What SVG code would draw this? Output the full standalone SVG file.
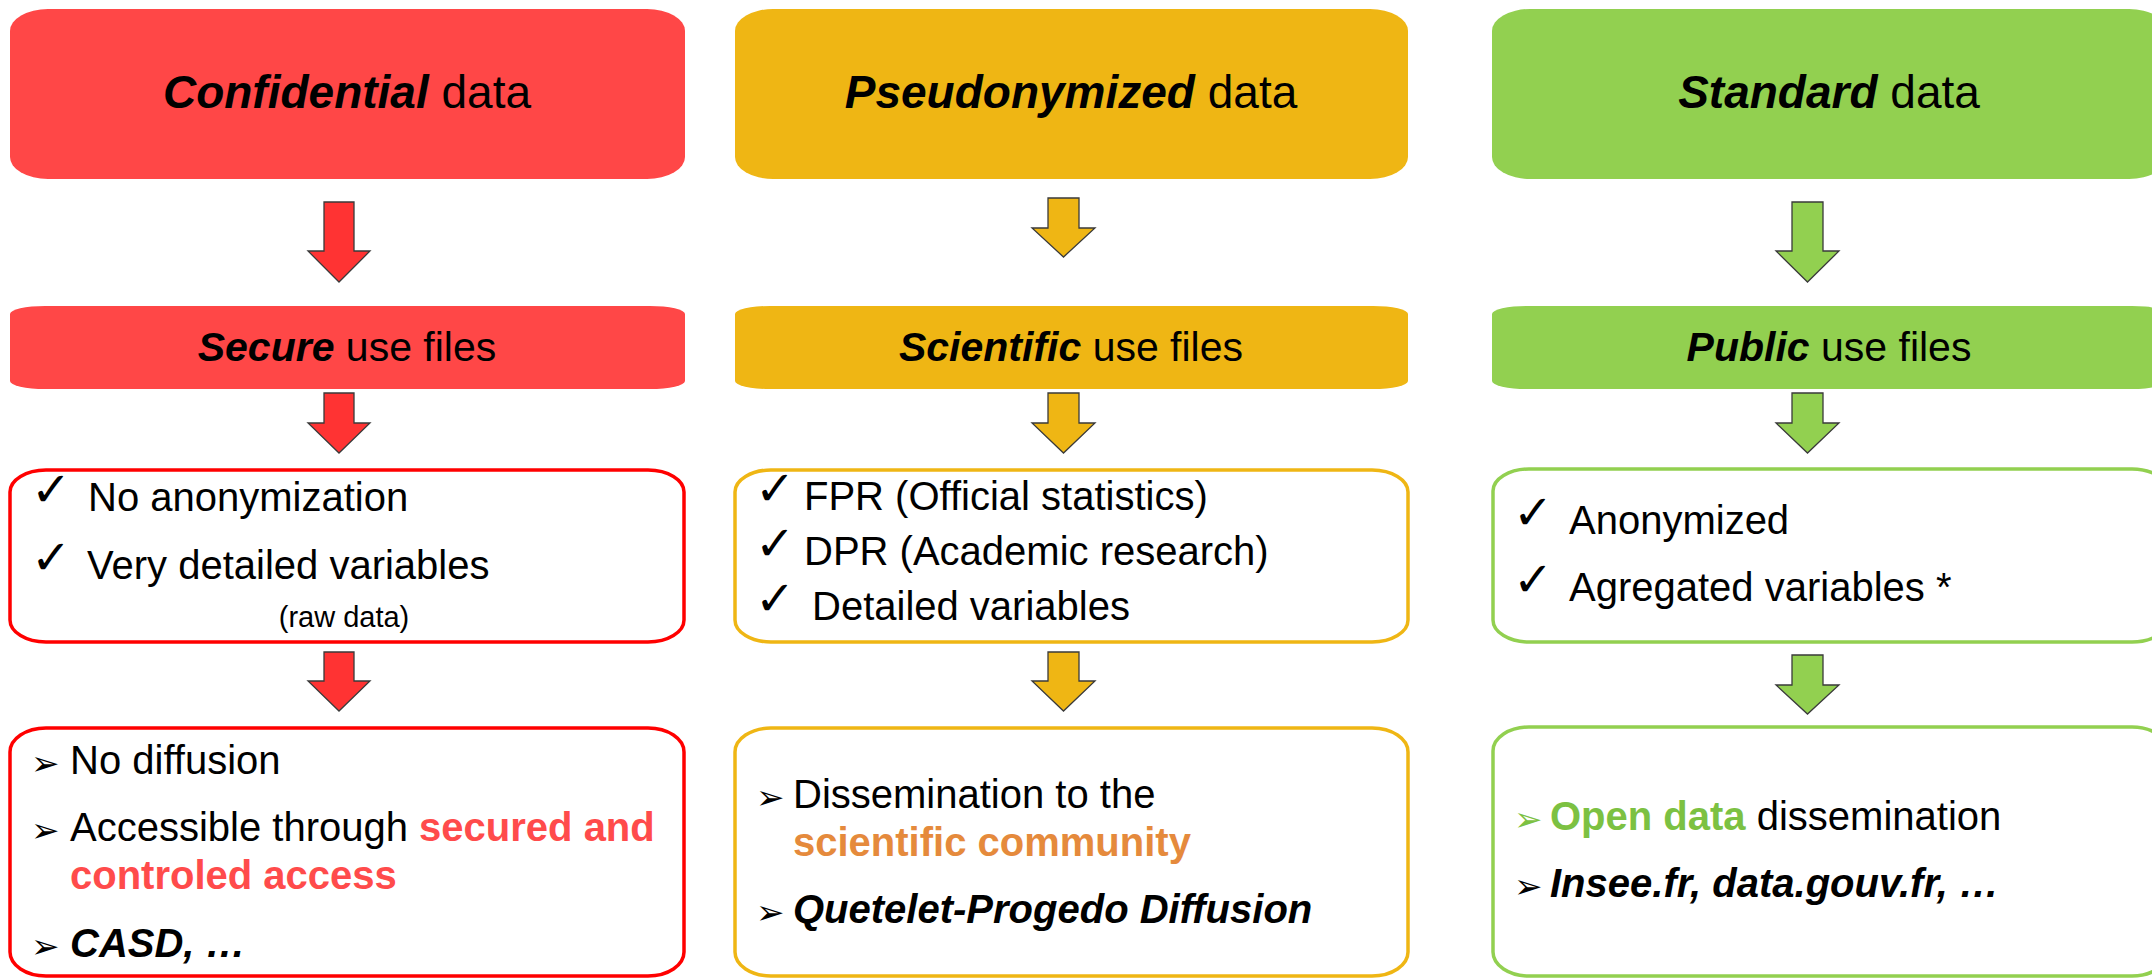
<svg xmlns="http://www.w3.org/2000/svg" width="2152" height="978" viewBox="0 0 2152 978">
<style>
text{font-family:"Liberation Sans",Arial,sans-serif}
.t{font-size:46px}
.s{font-size:41px}
.l{font-size:40px}
.bi{font-weight:bold;font-style:italic}
.b{font-weight:bold}
.ck{font-family:"DejaVu Sans",sans-serif;font-size:48px;font-weight:bold}
.bu{font-family:"DejaVu Sans",sans-serif;font-size:34px}
.cr{fill:#FF4B4B}.co{fill:#E58A3C}.cg{fill:#7CC142}
.arr{stroke:#3a3a3a;stroke-width:1.3;stroke-linejoin:miter}
.red{fill:#FF4747}.yel{fill:#EFB614}.grn{fill:#92D050}
.ored{fill:#fff;stroke:#FF0000;stroke-width:3.5}
.oyel{fill:#fff;stroke:#EFB614;stroke-width:3.5}
.ogrn{fill:#fff;stroke:#92D050;stroke-width:3.5}
</style>
<rect width="2152" height="978" fill="#fff"/>

<!-- Column 1: red -->
<g id="confidential">
<rect class="red" x="10" y="9" width="675" height="170" rx="38" ry="22"/>
<text class="t" x="347" y="108" text-anchor="middle"><tspan class="bi">Confidential</tspan> data</text>
</g>
<g id="secure">
<rect class="red" x="10" y="306" width="675" height="83" rx="35" ry="8"/>
<text class="s" x="347" y="361" text-anchor="middle"><tspan class="bi">Secure</tspan> use files</text>
</g>
<g id="secure-props">
<rect class="ored" x="10" y="470" width="674" height="172" rx="36" ry="22"/>
<text class="ck" x="31" y="506">✓</text>
<text class="l" x="88" y="511">No anonymization</text>
<text class="ck" x="31" y="574">✓</text>
<text class="l" x="87" y="579">Very detailed variables</text>
<text x="344" y="627" text-anchor="middle" style="font-size:29px">(raw data)</text>
</g>
<g id="secure-access">
<rect class="ored" x="10" y="728" width="674" height="248" rx="36" ry="24"/>
<text class="bu" x="31" y="775">➢</text>
<text class="l" x="70" y="774">No diffusion</text>
<text class="bu" x="31" y="842">➢</text>
<text class="l" x="70" y="841">Accessible through <tspan class="b cr">secured and</tspan></text>
<text class="l b cr" x="70" y="889">controled access</text>
<text class="bu" x="31" y="958">➢</text>
<text class="l bi" x="70" y="957">CASD, …</text>
</g>

<!-- Column 2: yellow -->
<g id="pseudonymized">
<rect class="yel" x="735" y="9" width="673" height="170" rx="38" ry="22"/>
<text class="t" x="1071" y="108" text-anchor="middle"><tspan class="bi">Pseudonymized</tspan> data</text>
</g>
<g id="scientific">
<rect class="yel" x="735" y="306" width="673" height="83" rx="35" ry="8"/>
<text class="s" x="1071" y="361" text-anchor="middle"><tspan class="bi">Scientific</tspan> use files</text>
</g>
<g id="scientific-props">
<rect class="oyel" x="735" y="470" width="673" height="172" rx="36" ry="22"/>
<text class="ck" x="755" y="505">✓</text>
<text class="l" x="804" y="510">FPR (Official statistics)</text>
<text class="ck" x="755" y="560">✓</text>
<text class="l" x="804" y="565">DPR (Academic research)</text>
<text class="ck" x="755" y="615">✓</text>
<text class="l" x="812" y="620">Detailed variables</text>
</g>
<g id="scientific-access">
<rect class="oyel" x="735" y="728" width="673" height="248" rx="36" ry="24"/>
<text class="bu" x="756" y="809">➢</text>
<text class="l" x="793" y="808">Dissemination to the</text>
<text class="l b co" x="793" y="856">scientific community</text>
<text class="bu" x="756" y="924">➢</text>
<text class="l bi" x="793" y="923">Quetelet-Progedo Diffusion</text>
</g>

<!-- Column 3: green -->
<g id="standard">
<rect class="grn" x="1492" y="9" width="675" height="170" rx="38" ry="22"/>
<text class="t" x="1829" y="108" text-anchor="middle"><tspan class="bi">Standard</tspan> data</text>
</g>
<g id="public">
<rect class="grn" x="1492" y="306" width="675" height="83" rx="35" ry="8"/>
<text class="s" x="1829" y="361" text-anchor="middle"><tspan class="bi">Public</tspan> use files</text>
</g>
<g id="public-props">
<rect class="ogrn" x="1493" y="469" width="675" height="173" rx="36" ry="22"/>
<text class="ck" x="1513" y="529">✓</text>
<text class="l" x="1569" y="534">Anonymized</text>
<text class="ck" x="1513" y="596">✓</text>
<text class="l" x="1569" y="601">Agregated variables *</text>
</g>
<g id="public-access">
<rect class="ogrn" x="1493" y="727" width="675" height="249" rx="36" ry="24"/>
<text class="bu cg" x="1514" y="831">➢</text>
<text class="l" x="1550" y="830"><tspan class="b cg">Open data</tspan> dissemination</text>
<text class="bu" x="1514" y="898">➢</text>
<text class="l bi" x="1550" y="897">Insee.fr, data.gouv.fr, …</text>
</g>

<!-- Connectors -->
<g id="connectors" class="arr">
<polygon fill="#FF3333" points="324,202 354,202 354,251 370,251 339,282 308,251 324,251"/>
<polygon fill="#FF3333" points="324,393 354,393 354,423 370,423 339,453 308,423 324,423"/>
<polygon fill="#FF3333" points="324,652 354,652 354,681 370,681 339,711 308,681 324,681"/>
<polygon fill="#EFB614" points="1048,198 1079,198 1079,228 1095,228 1063.5,257 1032,228 1048,228"/>
<polygon fill="#EFB614" points="1048,393 1079,393 1079,423 1095,423 1063.5,453 1032,423 1048,423"/>
<polygon fill="#EFB614" points="1048,652 1079,652 1079,681 1095,681 1063.5,711 1032,681 1048,681"/>
<polygon fill="#92D050" points="1792,202 1823,202 1823,251 1839,251 1807.5,282 1776,251 1792,251"/>
<polygon fill="#92D050" points="1792,393 1823,393 1823,423 1839,423 1807.5,453 1776,423 1792,423"/>
<polygon fill="#92D050" points="1792,655 1823,655 1823,685 1839,685 1807.5,714 1776,685 1792,685"/>
</g>
</svg>
